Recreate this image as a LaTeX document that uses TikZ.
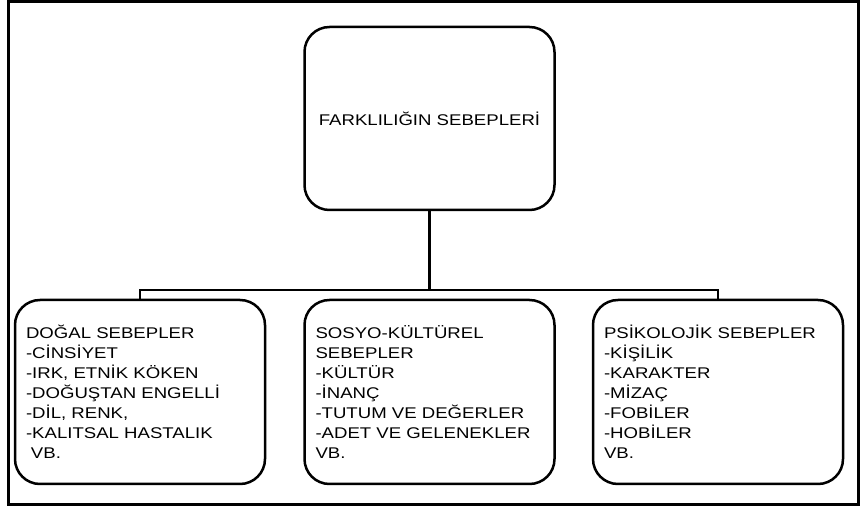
\documentclass[tikz,border=0pt]{standalone}
\usepackage{fontspec}
\setmainfont{Liberation Sans}[FakeStretch=1.2]
\begin{document}
\begin{tikzpicture}[x=1pt, y=-1pt,
  kutu/.style={draw, line width=2.5pt, rounded corners=25pt, align=left,
    text width=228pt, inner xsep=11pt, minimum height=184pt,
    font=\fontsize{15.5}{20}\selectfont},
  baglanti/.style={line width=2.5pt}]

\useasboundingbox (0, 0) rectangle (860, 510);
\draw[line width=3pt] (8, 2) rectangle (858, 505);

\node[kutu, align=center, minimum height=183pt] (sebep) at (429.5, 118.5) {FARKLILIĞIN SEBEPLERİ};

\node[kutu] (dogal) at (140, 392) {DOĞAL SEBEPLER\\-CİNSİYET\\-IRK, ETNİK KÖKEN\\-DOĞUŞTAN ENGELLİ\\-DİL, RENK,\\-KALITSAL HASTALIK\\\hspace*{5pt}VB.};
\node[kutu] (sosyo) at (429.5, 392) {SOSYO-KÜLTÜREL\\SEBEPLER\\-KÜLTÜR\\-İNANÇ\\-TUTUM VE DEĞERLER\\-ADET VE GELENEKLER\\VB.};
\node[kutu] (psiko) at (718, 392) {PSİKOLOJİK SEBEPLER\\-KİŞİLİK\\-KARAKTER\\-MİZAÇ\\-FOBİLER\\-HOBİLER\\VB.};

\coordinate (hat) at (429.5, 290);
\draw[baglanti] (sebep.south) -- (hat);
\draw[baglanti] (dogal.north) |- (hat) -| (psiko.north);

\end{tikzpicture}
\end{document}
